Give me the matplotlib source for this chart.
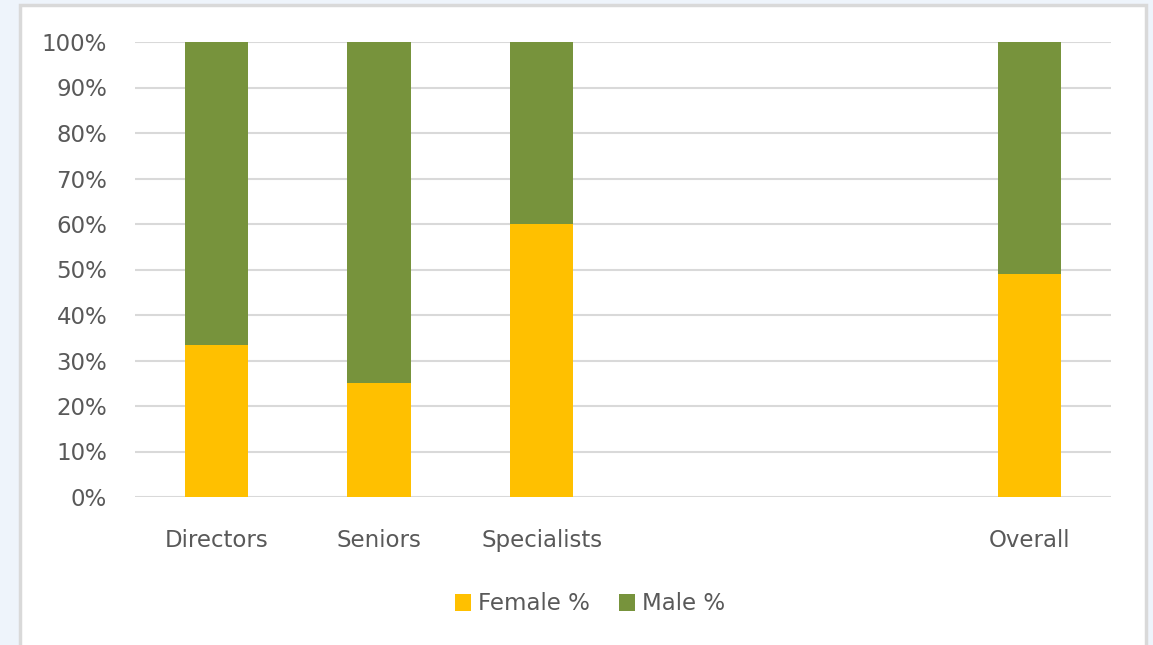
import matplotlib
matplotlib.use("Agg")
import matplotlib.pyplot as plt
from matplotlib.patches import Rectangle

categories = ["Directors", "Seniors", "Specialists", "", "", "Overall"]
female_pct = [33.3, 25.0, 60.0, 0, 0, 49.0]
male_pct = [66.7, 75.0, 40.0, 0, 0, 51.0]
yticks = [0, 10, 20, 30, 40, 50, 60, 70, 80, 90, 100]

W, H = 1153, 645
fig = plt.figure(figsize=(W / 100, H / 100), dpi=100, facecolor="#EEF4FB")
plt.rcParams['font.family'] = ['DejaVu Sans']

fig.patches.append(Rectangle((20 / W, -0.05), (1146 - 20) / W, (645 - 5) / H + 0.05,
                             transform=fig.transFigure, facecolor="white",
                             edgecolor="#D9D9D9", linewidth=2.5, zorder=-10))

ax = fig.add_axes([135 / W, 1 - 497 / H, (1111 - 135) / W, (497 - 42) / H])
ax.set_zorder(5)
ax.set_facecolor("none")
x = list(range(len(categories)))
ax.bar(x, female_pct, width=0.39, color="#FFC000", label="Female %", zorder=3)
ax.bar(x, male_pct, bottom=female_pct, width=0.39, color="#77933C", label="Male %", zorder=3)

ax.set_xlim(-0.5, len(categories) - 0.5)
ax.set_ylim(0, 100)
ax.set_yticks(yticks)
ax.set_yticklabels([f"{v}%" for v in yticks])
ax.set_xticks(x)
ax.set_xticklabels(categories)
ax.grid(axis="y", color="#D9D9D9", linewidth=1.5, zorder=0)
for s in ax.spines.values():
    s.set_visible(False)
ax.tick_params(axis="both", length=0, colors="#595959", labelsize=16.5)
ax.tick_params(axis="x", pad=23)
ax.tick_params(axis="y", pad=20)

leg = fig.legend(loc="center", bbox_to_anchor=(590 / W, 1 - 604 / H), ncol=2, frameon=False,
                 fontsize=16.5, labelcolor="#595959", handlelength=0.7, handleheight=0.7,
                 handletextpad=0.3, columnspacing=1.3)
leg.set_zorder(6)

fig.savefig("out.png", dpi=100, facecolor=fig.get_facecolor())
